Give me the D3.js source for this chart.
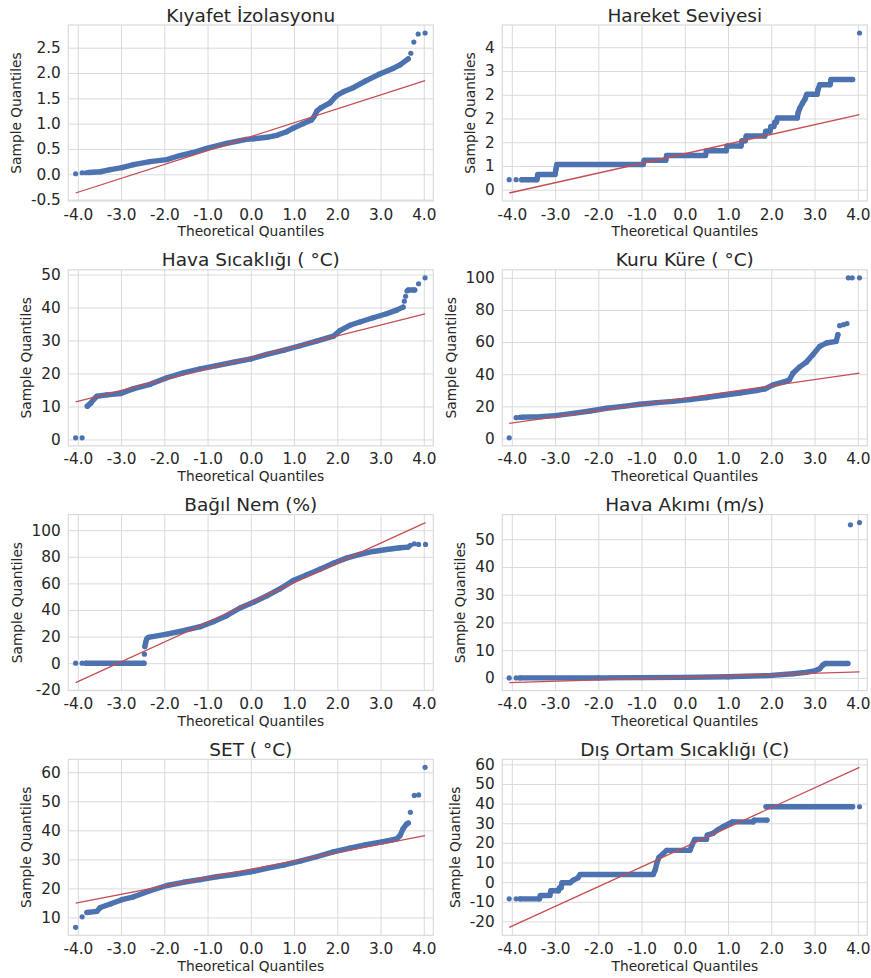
<!DOCTYPE html>
<html>
<head>
<meta charset="utf-8">
<script src="https://cdn.jsdelivr.net/npm/d3@7"></script>
<style>
  body { margin: 0; background: #fff; }
  text { font-family: "DejaVu Sans", sans-serif; fill: #262626; }
</style>
</head>
<body>
<svg id="chart" width="871" height="978"></svg>
<script>
// Theoretical-quantile axis, shared by every panel
const xTicks = [-4, -3, -2, -1, 0, 1, 2, 3, 4];
const xTickLabels = ["-4.0", "-3.0", "-2.0", "-1.0", "0.0", "1.0", "2.0", "3.0", "4.0"];

const titles = [
  "Kıyafet İzolasyonu", "Hareket Seviyesi",
  "Hava Sıcaklığı ( °C)", "Kuru Küre ( °C)",
  "Bağıl Nem (%)", "Hava Akımı (m/s)",
  "SET ( °C)", "Dış Ortam Sıcaklığı (C)"
];

// Each panel: dense band of [theoretical, sample] quantiles (null = gap),
// isolated tail points, and the two ends of the fitted reference line.
const kiyafetBand = [[-3.75,0.035],[-3.48,0.05],[-3.25,0.09],[-2.98,0.13],[-2.71,0.19],[-2.33,0.25],[-1.94,0.29],[-1.64,0.37],[-1.33,0.43],[-1.02,0.51],[-0.56,0.61],[-0.10,0.69],[0.06,0.70],[0.37,0.73],[0.60,0.77],[0.83,0.84],[0.98,0.91],[1.21,1.00],[1.40,1.07],[1.47,1.15],[1.53,1.25],[1.62,1.31],[1.83,1.41],[1.98,1.55],[2.14,1.63],[2.37,1.71],[2.67,1.85],[2.98,1.98],[3.29,2.09],[3.45,2.16],[3.64,2.28]];
const kiyafetOutliers = [[-4.05,0.01],[-3.90,0.03],[-3.81,0.03],[3.70,2.39],[3.77,2.61],[3.87,2.77],[4.03,2.79]];
const kiyafetLine = [[-4.05,-0.37],[4.03,1.85]];
const kiyafetTicks = [-0.5, 0, 0.5, 1, 1.5, 2, 2.5];
const kiyafetTickLabels = ["-0.5", "0.0", "0.5", "1.0", "1.5", "2.0", "2.5"];

const hareketBand = [[-3.77,0.21],[-3.42,0.21],[-3.40,0.32],[-3.00,0.32],[-2.98,0.43],[-2.96,0.53],[-0.96,0.53],[-0.94,0.62],[-0.44,0.62],[-0.42,0.72],[0.48,0.72],[0.50,0.82],[0.96,0.82],[0.98,0.92],[1.30,0.92],[1.32,1.03],[1.40,1.03],[1.42,1.13],[1.85,1.13],[1.87,1.23],[1.97,1.23],[1.99,1.33],[2.06,1.33],[2.08,1.42],[2.12,1.42],[2.14,1.51],[2.60,1.51],[2.62,1.62],[2.66,1.72],[2.72,1.82],[2.78,1.91],[2.82,2.01],[3.06,2.01],[3.08,2.11],[3.12,2.21],[3.36,2.21],[3.38,2.32],[3.88,2.32]];
const hareketOutliers = [[-4.06,0.21],[-3.90,0.21],[4.04,3.30]];
const hareketLine = [[-4.06,-0.07],[4.04,1.58]];
const hareketTicks = [0, 0.5, 1, 1.5, 2, 2.5, 3];
const hareketTickLabels = ["0", "1", "2", "2", "2", "3", "4"];

const havaBand = [[-3.78,10.1],[-3.70,11.0],[-3.63,12.2],[-3.56,13.1],[-3.33,13.5],[-3.02,13.9],[-2.71,15.4],[-2.33,16.7],[-1.94,18.7],[-1.56,20.2],[-1.17,21.4],[-0.79,22.4],[-0.40,23.4],[0,24.4],[0.37,25.8],[0.75,27.0],[1.14,28.4],[1.52,29.8],[1.91,31.3],[2.06,33.0],[2.29,34.6],[2.52,35.6],[2.83,36.9],[3.14,38.1],[3.37,39.2],[3.52,40.1],null,[3.64,45.3],[3.79,45.3]];
const havaOutliers = [[-4.05,0.5],[-3.90,0.5],[3.55,41.9],[3.58,43.4],[3.61,45.0],[3.88,47.2],[4.03,49.0]];
const havaLine = [[-4.05,11.4],[4.03,38.1]];
const havaTicks = [0, 10, 20, 30, 40, 50];
const havaTickLabels = ["0", "10", "20", "30", "40", "50"];

const kuruBand = [[-3.81,13.1],[-3.73,13.3],[-3.35,13.5],[-3.00,14.2],[-2.58,15.6],[-2.19,17.1],[-1.81,18.8],[-1.42,20.0],[-1.04,21.3],[-0.65,22.3],[-0.27,23.1],[0.12,24.2],[0.50,25.4],[0.88,26.9],[1.27,28.3],[1.65,29.8],[1.85,30.8],[2.04,33.3],[2.27,35.0],[2.42,36.5],[2.50,40.6],[2.65,44.4],[2.81,47.5],[2.96,52.1],[3.12,57.3],[3.27,59.4],[3.50,60.4],[3.54,64.6]];
const kuruOutliers = [[-4.06,0.4],[-3.90,12.9],[3.58,70.2],[3.67,70.8],[3.75,71.5],[3.78,100],[3.87,100],[4.04,100]];
const kuruLine = [[-4.06,9.4],[4.04,40.6]];
const kuruTicks = [0, 20, 40, 60, 80, 100];
const kuruTickLabels = ["0", "20", "40", "60", "80", "100"];

const nemBand = [[-3.81,0],[-2.47,0],null,[-2.45,12.5],[-2.43,15.6],[-2.41,18.1],[-2.37,19.4],[-1.94,21.9],[-1.56,24.4],[-1.17,27.4],[-0.87,31.2],[-0.56,35.7],[-0.25,41.5],[0.06,45.8],[0.37,50.6],[0.67,55.8],[0.98,62.1],[1.29,66.4],[1.60,70.7],[1.91,75.2],[2.21,79.0],[2.52,81.8],[2.83,84.0],[3.14,85.5],[3.45,86.8],[3.64,87.3]];
const nemOutliers = [[-4.05,0],[-3.90,0],[-2.46,6.8],[3.69,88.6],[3.78,89.8],[3.88,89.3],[4.04,89.3]];
const nemLine = [[-4.05,-14.6],[4.04,105.7]];
const nemTicks = [-20, 0, 20, 40, 60, 80, 100];
const nemTickLabels = ["-20", "0", "20", "40", "60", "80", "100"];

const akimBand = [[-3.81,0.0],[-2.0,0.0],[-1.0,0.1],[0.0,0.2],[1.0,0.4],[2.0,0.9],[2.5,1.5],[2.8,2.0],[3.0,2.5],[3.12,3.3],[3.19,4.6],[3.25,5.2],[3.77,5.2]];
const akimOutliers = [[-4.06,0.0],[-3.90,0.0],[3.83,55.2],[4.04,56.0]];
const akimLine = [[-4.06,-1.7],[4.04,2.2]];
const akimTicks = [0, 10, 20, 30, 40, 50];
const akimTickLabels = ["0", "10", "20", "30", "40", "50"];

const setBand = [[-3.79,11.7],[-3.56,12.1],[-3.48,13.4],[-3.25,14.6],[-2.98,16.1],[-2.71,17.1],[-2.33,19.2],[-1.94,21.0],[-1.56,22.1],[-1.17,23.0],[-0.79,24.0],[-0.40,24.8],[0,25.7],[0.37,26.9],[0.75,28.0],[1.14,29.4],[1.52,30.9],[1.91,32.6],[2.29,33.9],[2.67,35.1],[3.06,36.1],[3.37,37.0],[3.45,38.2],[3.52,40.5],[3.60,42.1],[3.64,42.5]];
const setOutliers = [[-4.05,6.6],[-3.90,10.2],[3.69,46.2],[3.78,52.0],[3.88,52.2],[4.03,61.7]];
const setLine = [[-4.05,14.9],[4.03,38.2]];
const setTicks = [10, 20, 30, 40, 50, 60];
const setTickLabels = ["10", "20", "30", "40", "50", "60"];

const disBand = [[-3.81,-8.5],[-3.36,-8.5],[-3.34,-6.8],[-3.12,-6.8],[-3.10,-4.4],[-2.92,-4.4],[-2.90,-2.9],[-2.86,-2.9],[-2.84,-0.3],[-2.65,-0.3],[-2.58,1.0],[-2.47,2.2],[-2.42,3.9],[-0.73,3.9],[-0.68,6.5],[-0.65,9.5],[-0.60,12.5],[-0.50,14.5],[-0.42,16.2],[0.12,16.2],[0.17,19.0],[0.23,21.8],[0.50,21.8],[0.52,24.0],[0.65,24.8],[0.75,26.5],[0.88,28.2],[1.00,29.5],[1.10,30.7],[1.58,30.7],[1.60,31.6],[1.90,31.6],null,[1.88,38.4],[3.88,38.4]];
const disOutliers = [[-4.06,-8.5],[-3.90,-8.5],[4.04,38.4]];
const disLine = [[-4.06,-23.0],[4.04,58.5]];
const disTicks = [-20, -10, 0, 10, 20, 30, 40, 50, 60];
const disTickLabels = ["-20", "-10", "0", "10", "20", "30", "40", "50", "60"];

const panels = [
  { band: kiyafetBand, pts: kiyafetOutliers, line: kiyafetLine, ticks: kiyafetTicks, labels: kiyafetTickLabels },
  { band: hareketBand, pts: hareketOutliers, line: hareketLine, ticks: hareketTicks, labels: hareketTickLabels },
  { band: havaBand, pts: havaOutliers, line: havaLine, ticks: havaTicks, labels: havaTickLabels },
  { band: kuruBand, pts: kuruOutliers, line: kuruLine, ticks: kuruTicks, labels: kuruTickLabels },
  { band: nemBand, pts: nemOutliers, line: nemLine, ticks: nemTicks, labels: nemTickLabels },
  { band: akimBand, pts: akimOutliers, line: akimLine, ticks: akimTicks, labels: akimTickLabels },
  { band: setBand, pts: setOutliers, line: setLine, ticks: setTicks, labels: setTickLabels },
  { band: disBand, pts: disOutliers, line: disLine, ticks: disTicks, labels: disTickLabels }
];

// Layout of the 4 x 2 grid
const colLeft = [68.3, 502.3];
const rowTop = [25, 269.8, 514.6, 759.3];
const plotW = 365, plotH = 176;
const xDomain = [-4.22, 4.22];
const blue = "#4c72b0", red = "#c44e52", gridColor = "#dadada";

const svg = d3.select("#chart");

panels.forEach((p, i) => {
  const left = colLeft[i % 2], top = rowTop[Math.floor(i / 2)];
  const g = svg.append("g");

  const x = d3.scaleLinear().domain(xDomain).range([left, left + plotW]);
  const vals = p.band.filter(d => d).map(d => d[1])
    .concat(p.pts.map(d => d[1]), p.line.map(d => d[1]));
  const [lo, hi] = d3.extent(vals);
  const pad = (hi - lo) * 0.05;
  const y = d3.scaleLinear().domain([lo - pad, hi + pad]).range([top + plotH, top]);

  // grid + tick labels via d3 axes
  const xAxis = g.append("g")
    .attr("transform", `translate(0,${top + plotH})`)
    .call(d3.axisBottom(x).tickValues(xTicks)
      .tickFormat((d, k) => xTickLabels[k])
      .tickSize(-plotH).tickSizeOuter(0).tickPadding(7.8));
  const yAxis = g.append("g")
    .attr("transform", `translate(${left},0)`)
    .call(d3.axisLeft(y).tickValues(p.ticks)
      .tickFormat((d, k) => p.labels[k])
      .tickSize(-plotW).tickSizeOuter(0).tickPadding(7.5));
  [xAxis, yAxis].forEach(a => {
    a.select(".domain").remove();
    a.selectAll(".tick line").attr("stroke", gridColor).attr("stroke-width", 1);
    a.selectAll(".tick text").attr("fill", "#262626")
      .style("font-family", '"DejaVu Sans", sans-serif').style("font-size", "15.3px");
  });

  // plot frame
  g.append("rect")
    .attr("x", left).attr("y", top).attr("width", plotW).attr("height", plotH)
    .attr("fill", "none").attr("stroke", gridColor).attr("stroke-width", 1.2);

  // dense body of the sample, drawn as overlapping markers
  const bandLine = d3.line().defined(d => d !== null).x(d => x(d[0])).y(d => y(d[1]));
  g.append("path").datum(p.band)
    .attr("d", bandLine)
    .attr("fill", "none").attr("stroke", blue).attr("stroke-width", 5.4)
    .attr("stroke-linecap", "round").attr("stroke-linejoin", "round");

  g.selectAll("circle.pt")
    .data(p.band.filter(d => d).concat(p.pts))
    .join("circle").attr("class", "pt")
    .attr("cx", d => x(d[0])).attr("cy", d => y(d[1])).attr("r", 2.6)
    .attr("fill", blue);

  // fitted reference line
  g.append("path").datum(p.line)
    .attr("d", d3.line().x(d => x(d[0])).y(d => y(d[1])))
    .attr("fill", "none").attr("stroke", red).attr("stroke-width", 1.3);

  // titles and axis labels
  g.append("text")
    .attr("x", left + plotW / 2).attr("y", top - 3.5)
    .attr("text-anchor", "middle").style("font-size", "18.5px")
    .text(titles[i]);

  g.append("text")
    .attr("x", left + plotW / 2).attr("y", top + plotH + 35.3)
    .attr("text-anchor", "middle").style("font-size", "13.75px")
    .text("Theoretical Quantiles");

  let minLeft = left;
  yAxis.selectAll(".tick text").each(function () {
    const b = this.getBBox();
    minLeft = Math.min(minLeft, left + b.x);
  });
  g.append("text")
    .attr("transform", `translate(${minLeft - 10},${top + plotH / 2}) rotate(-90)`)
    .attr("text-anchor", "middle").style("font-size", "13.75px")
    .text("Sample Quantiles");
});
</script>
</body>
</html>
